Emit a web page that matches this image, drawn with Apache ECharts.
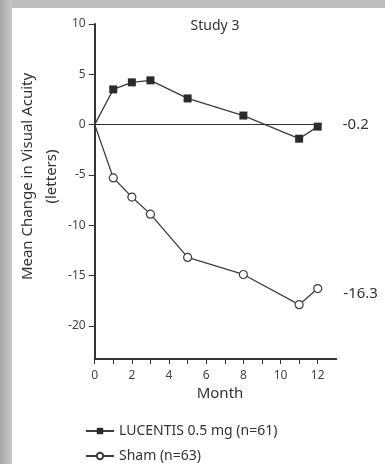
<!DOCTYPE html>
<html>
<head>
<meta charset="utf-8">
<script src="https://cdn.jsdelivr.net/npm/echarts@6/dist/echarts.min.js"></script>
<style>
html,body{margin:0;padding:0;background:#fff;}
#chart{width:385px;height:464px;}
</style>
</head>
<body>
<div id="chart"></div>
<script>
var months = [0, 1, 2, 3, 5, 8, 11, 12];
var lucentis = [0, 3.5, 4.2, 4.4, 2.6, 0.9, -1.4, -0.2];
var sham = [0, -5.3, -7.2, -8.9, -13.2, -14.9, -17.9, -16.3];
var yTicks = [-20, -15, -10, -5, 0, 5, 10];
var xTicks = [0, 1, 2, 3, 4, 5, 6, 7, 8, 9, 10, 11, 12];
var xLabels = [0, 2, 4, 6, 8, 10, 12];
var zeroLineEnd = 12.2;
var seriesNames = ['LUCENTIS 0.5 mg (n=61)', 'Sham (n=63)'];

var FONT = 'Noto Sans';
var INK = '#333333';

function buildData(vals, labelOffset) {
  return months.map(function (m, i) {
    var item = { value: [m, vals[i]] };
    if (i === 0) item.symbol = 'none';
    if (i === vals.length - 1) {
      item.label = {
        show: true, position: 'right', distance: 21, offset: labelOffset,
        formatter: function (p) { return String(p.value[1]); },
        fontFamily: FONT, fontSize: 15, color: INK
      };
    }
    return item;
  });
}

function legendFor(name, top) {
  return {
    orient: 'horizontal', left: 80, top: top, itemWidth: 28, itemHeight: 8, itemGap: 8,
    textStyle: { fontFamily: FONT, fontSize: 14, color: INK },
    data: [name]
  };
}

var chart = echarts.init(document.getElementById('chart'), null, { renderer: 'canvas' });
chart.setOption({
  backgroundColor: '#ffffff',
  animation: false,
  textStyle: { fontFamily: FONT },
  graphic: [
    { type: 'rect', shape: { x: 0, y: 0, width: 385, height: 8 }, style: { fill: '#bdbdbd' }, silent: true },
    { type: 'rect', shape: { x: 0, y: 0, width: 12, height: 464 },
      style: { fill: new echarts.graphic.LinearGradient(0, 0, 1, 0, [
        { offset: 0, color: '#a6a6a6' }, { offset: 1, color: '#c6c6c6' }]) }, silent: true }
  ],
  title: {
    text: 'Study 3', left: 210, top: 14, textAlign: 'center',
    textStyle: { fontFamily: FONT, fontSize: 14, fontWeight: 'normal', color: INK }
  },
  legend: [legendFor(seriesNames[0], 419), legendFor(seriesNames[1], 444)],
  grid: { left: 94.7, right: 48.7, top: 24, bottom: 105, containLabel: false },
  xAxis: {
    type: 'value', min: 0, max: 13,
    name: 'Month', nameLocation: 'middle', nameGap: 27, nameMoveOverlap: false,
    nameTextStyle: { fontFamily: FONT, fontSize: 15, color: INK, padding: [0, 0, 0, 9] },
    axisLine: { show: true, onZero: false, lineStyle: { color: INK, width: 2 } },
    axisTick: { show: true, customValues: xTicks, length: 5, lineStyle: { color: INK, width: 1 } },
    axisLabel: { customValues: xLabels, margin: 11, fontSize: 12, color: '#444', fontFamily: FONT },
    splitLine: { show: false }
  },
  yAxis: {
    type: 'value', min: -23.3, max: 10,
    name: 'Mean Change in Visual Acuity\n(letters)', nameLocation: 'middle', nameGap: 31, nameRotate: 90,
    nameMoveOverlap: false,
    nameTextStyle: { fontFamily: FONT, fontSize: 15, lineHeight: 24, color: INK, padding: [0, 0, 0, 30] },
    axisLine: { show: true, onZero: false, lineStyle: { color: INK, width: 2 } },
    axisTick: { show: true, customValues: yTicks, length: 6, lineStyle: { color: INK, width: 1 } },
    axisLabel: { customValues: yTicks, margin: 9, fontSize: 12, color: '#444', fontFamily: FONT },
    splitLine: { show: false }
  },
  series: [
    {
      name: seriesNames[0], type: 'line', data: buildData(lucentis, [0, -2]),
      symbol: 'rect', symbolSize: 8,
      lineStyle: { color: '#3d3d3d', width: 1.3 },
      itemStyle: { color: '#2b2b2b', borderWidth: 0 },
      markLine: {
        silent: true, symbol: 'none', label: { show: false },
        lineStyle: { color: INK, width: 1, type: 'solid' },
        data: [[{ coord: [0, 0] }, { coord: [zeroLineEnd, 0] }]]
      },
      z: 3
    },
    {
      name: seriesNames[1], type: 'line', data: buildData(sham, [0, 5]),
      symbol: 'circle', symbolSize: 8,
      lineStyle: { color: '#3d3d3d', width: 1.3 },
      itemStyle: { color: '#ffffff', borderColor: '#3d3d3d', borderWidth: 1.2 },
      z: 3
    }
  ]
});
</script>
</body>
</html>
